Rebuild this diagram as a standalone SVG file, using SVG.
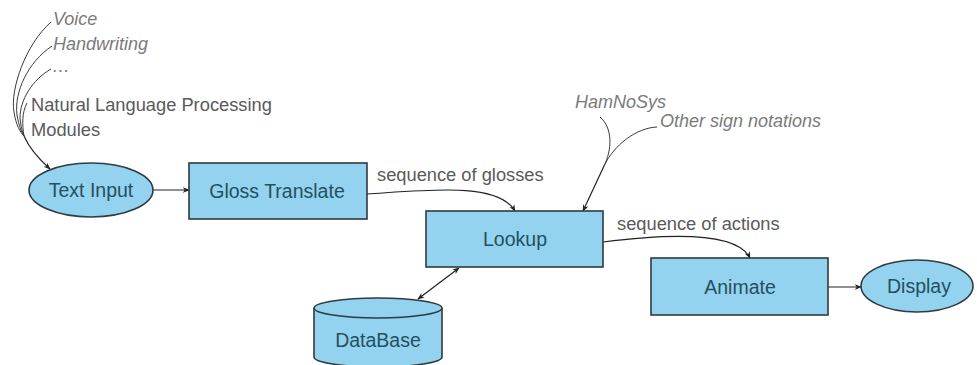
<svg xmlns="http://www.w3.org/2000/svg" width="977" height="365" viewBox="0 0 977 365">
  <style>
    .node { fill: #93d3ef; stroke: #2f3b40; stroke-width: 1.6; }
    .lbl { font-family: "Liberation Sans", Arial, sans-serif; font-size: 19.5px; fill: #24505f; text-anchor: middle; }
    .note { font-family: "Liberation Sans", Arial, sans-serif; font-size: 18.3px; fill: #5a5a5a; }
    .src { font-family: "Liberation Sans", Arial, sans-serif; font-size: 18px; fill: #7a7a7a; font-style: italic; }
    .edge { fill: none; stroke: #222; stroke-width: 1.2; }
    .feed { fill: none; stroke: #3a3a3a; stroke-width: 1; }
  </style>
  <defs>
    <marker id="arr" viewBox="0 0 10 10" refX="9" refY="5" markerWidth="7" markerHeight="7" orient="auto-start-reverse" markerUnits="userSpaceOnUse">
      <path d="M0,1 L10,5 L0,9 L3,5 Z" fill="#222"/>
    </marker>
  </defs>
  <rect width="977" height="365" fill="#fff"/>

  <!-- free-floating source labels -->
  <g id="sources">
    <text class="src" x="53" y="25">Voice</text>
    <text class="src" x="53" y="50">Handwriting</text>
    <text class="src" x="52" y="72">…</text>
    <text class="note" x="31" y="111">Natural Language Processing</text>
    <text class="note" x="31" y="136">Modules</text>
    <text class="src" x="575" y="108">HamNoSys</text>
    <text class="src" x="660" y="127">Other sign notations</text>
    <text class="note" x="377" y="181">sequence of glosses</text>
    <text class="note" x="617" y="230">sequence of actions</text>
  </g>

  <g id="connectors">
    <!-- inputs into Text Input -->
    <path class="feed" d="M51,22 C25,45 10,90 14,112 C16,125 20,132 24,136"/>
    <path class="feed" d="M52,46 C28,62 14,92 17,115 C19,126 21,131 24,136"/>
    <path class="feed" d="M51,69 C32,80 20,100 20,118 C21,127 22,131 24,136"/>
    <path class="feed" d="M27,103 C22,112 22,125 24,136"/>
    <path class="edge" d="M24,136 C30,150 40,160 50,169" marker-end="url(#arr)"/>
    <!-- main flow -->
    <path class="edge" d="M153,190 L189,190" marker-end="url(#arr)"/>
    <path class="edge" d="M367,194 C430,190 498,182 515,211" marker-end="url(#arr)"/>
    <!-- notations into Lookup -->
    <path class="feed" d="M600,117 C613,128 612,150 604,166"/>
    <path class="feed" d="M657,127 C636,128 614,145 604,166"/>
    <path class="edge" d="M604,166 L583,211" marker-end="url(#arr)"/>
    <path class="edge" d="M603,242 C650,236 735,228 750,258" marker-end="url(#arr)"/>
    <path class="edge" d="M828,287 L861,287" marker-end="url(#arr)"/>
    <!-- Lookup <-> DataBase -->
    <path class="edge" d="M418,299 L459,268" marker-start="url(#arr)" marker-end="url(#arr)"/>
  </g>

  <g id="text-input">
    <ellipse class="node" cx="91" cy="190" rx="62" ry="27"/>
    <text class="lbl" x="91" y="197">Text Input</text>
  </g>
  <g id="gloss-translate">
    <rect class="node" x="189" y="163" width="178" height="56"/>
    <text class="lbl" x="277" y="198">Gloss Translate</text>
  </g>
  <g id="lookup">
    <rect class="node" x="426" y="211" width="177" height="56"/>
    <text class="lbl" x="515" y="246">Lookup</text>
  </g>
  <g id="animate">
    <rect class="node" x="651" y="258" width="177" height="57"/>
    <text class="lbl" x="740" y="294">Animate</text>
  </g>
  <g id="display">
    <ellipse class="node" cx="917" cy="286" rx="56" ry="26"/>
    <text class="lbl" x="919" y="293">Display</text>
  </g>
  <g id="database">
    <path class="node" d="M314,308 L314,357 A64,10 0 0 0 442,357 L442,308"/>
    <ellipse class="node" cx="378" cy="308" rx="64" ry="10"/>
    <text class="lbl" x="378" y="347">DataBase</text>
  </g>
</svg>
